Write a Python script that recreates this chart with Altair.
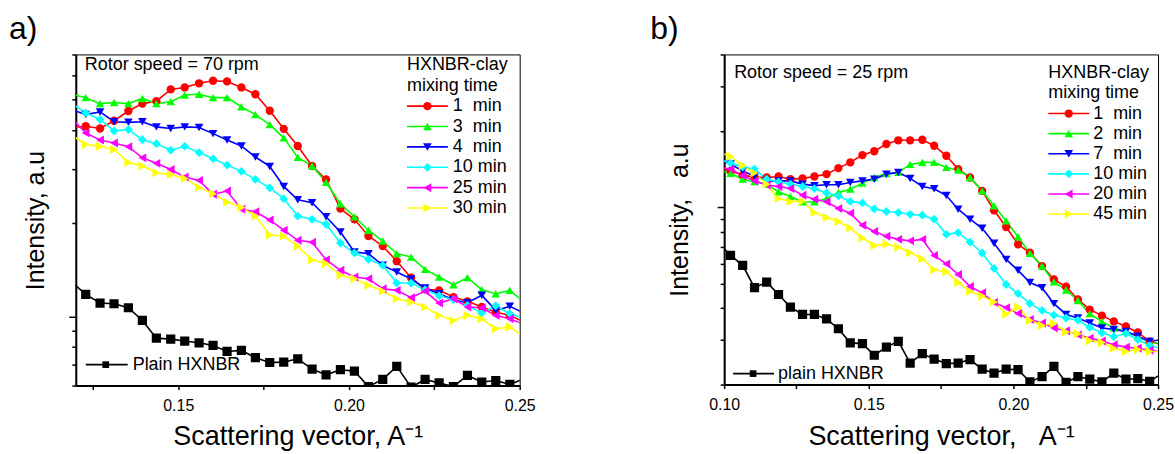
import altair as alt
import pandas as pd

# ---------------- data ----------------
X_A = [0.1188, 0.1229, 0.1271, 0.1312, 0.1354, 0.1395, 0.1436, 0.1478, 0.1519, 0.1561,
       0.1602, 0.1643, 0.1685, 0.1726, 0.1768, 0.1809, 0.1850, 0.1892, 0.1933, 0.1975,
       0.2016, 0.2057, 0.2099, 0.2140, 0.2182, 0.2223, 0.2264, 0.2306, 0.2347, 0.2389,
       0.2430, 0.2471, 0.2513]
X_B = [0.0981, 0.1022, 0.1064, 0.1105, 0.1147, 0.1188, 0.1229, 0.1271, 0.1312, 0.1354,
       0.1395, 0.1436, 0.1478, 0.1519, 0.1561, 0.1602, 0.1643, 0.1685, 0.1726, 0.1768,
       0.1809, 0.1850, 0.1892, 0.1933, 0.1975, 0.2016, 0.2057, 0.2099, 0.2140, 0.2182,
       0.2223, 0.2264, 0.2306, 0.2347, 0.2389, 0.2430, 0.2471, 0.2513]

LABELS_A = ["1\u00a0\u00a0min", "3\u00a0\u00a0min", "4\u00a0\u00a0min", "10 min", "25 min", "30 min"]
PLAIN_A = "Plain HXNBR"
LABELS_B = ["1\u00a0\u00a0min", "2\u00a0\u00a0min", "7\u00a0\u00a0min", "10 min", "20 min", "45 min"]
PLAIN_B = "plain HXNBR"

RED_A = [4.07, 4.11, 4.04, 4.28, 4.60, 4.86, 4.95, 5.40, 5.48, 5.65, 5.76, 5.73, 5.48, 5.21, 4.61, 4.03,
         3.55, 3.06, 2.77, 2.23, 2.06, 1.82, 1.69, 1.51, 1.336, 1.225, 1.216, 1.157, 1.121, 1.075, 1.035, 1.01, 0.961]
GREEN_A = [5.21, 5.08, 4.86, 4.90, 4.86, 5.05, 4.86, 4.93, 5.18, 5.21, 5.08, 5.08, 4.75, 4.48, 4.16, 3.77,
           3.26, 3.06, 2.71, 2.31, 2.10, 1.90, 1.754, 1.597, 1.557, 1.421, 1.343, 1.268, 1.336, 1.222, 1.186, 1.216, 1.115]
BLUE_A = [4.65, 4.48, 4.57, 4.25, 4.23, 4.25, 4.09, 4.04, 4.09, 4.07, 3.89, 3.71, 3.55, 3.27, 3.05, 2.63,
          2.38, 2.33, 2.10, 1.876, 1.617, 1.597, 1.464, 1.393, 1.323, 1.237, 1.186, 1.135, 1.110, 1.172, 1.048, 1.080, 1.028]
CYAN_A = [4.86, 4.54, 4.32, 3.97, 4.01, 3.72, 3.61, 3.44, 3.54, 3.38, 3.23, 3.08, 2.94, 2.77, 2.60, 2.40,
          2.11, 2.06, 1.986, 1.728, 1.605, 1.531, 1.464, 1.284, 1.284, 1.222, 1.169, 1.135, 1.088, 1.028, 1.085, 1.023, 0.988]
MAGENTA_A = [4.35, 3.91, 3.71, 3.63, 3.53, 3.25, 3.12, 2.98, 2.82, 2.75, 2.48, 2.54, 2.22, 2.18, 2.05, 1.90,
             1.763, 1.737, 1.527, 1.411, 1.343, 1.326, 1.231, 1.216, 1.152, 1.210, 1.107, 1.143, 1.075, 1.069, 1.01, 0.985, 0.945]
YELLOW_A = [3.85, 3.59, 3.54, 3.46, 3.14, 3.06, 2.91, 2.87, 2.79, 2.61, 2.49, 2.34, 2.25, 2.11, 1.834, 1.82,
            1.686, 1.527, 1.483, 1.36, 1.326, 1.262, 1.210, 1.143, 1.115, 1.075, 1.01, 0.973, 1.01, 0.985, 0.915, 0.926, 0.864]
BLACK_A = [1.294, 1.180, 1.107, 1.101, 1.069, 0.973, 0.853, 0.847, 0.835, 0.824, 0.808, 0.773, 0.779, 0.738, 0.712, 0.714,
           0.732, 0.678, 0.650, 0.675, 0.668, 0.596, 0.628, 0.692, 0.593, 0.628, 0.612, 0.596, 0.647, 0.616, 0.623, 0.605, 0.631]

RED_B = [1.439, 1.388, 1.338, 1.314, 1.310, 1.322, 1.290, 1.299, 1.322, 1.350, 1.426, 1.502, 1.605, 1.661, 1.774, 1.835,
         1.835, 1.845, 1.747, 1.595, 1.413, 1.310, 1.160, 0.973, 0.836, 0.714, 0.662, 0.586, 0.519, 0.486, 0.433, 0.395,
         0.374, 0.355, 0.339, 0.321, 0.296, 0.287]
GREEN_B = [1.40, 1.36, 1.290, 1.261, 1.233, 1.149, 1.102, 1.049, 1.049, 1.082, 1.143, 1.178, 1.244, 1.310, 1.356, 1.371,
           1.475, 1.502, 1.502, 1.435, 1.400, 1.310, 1.160, 1.012, 0.883, 0.765, 0.658, 0.586, 0.508, 0.472, 0.429, 0.381,
           0.354, 0.334, 0.324, 0.309, 0.295, 0.290]
BLUE_B = [1.548, 1.479, 1.388, 1.326, 1.270, 1.270, 1.270, 1.233, 1.216, 1.227, 1.227, 1.252, 1.270, 1.290, 1.350, 1.371,
          1.299, 1.207, 1.183, 1.112, 0.982, 0.897, 0.826, 0.721, 0.623, 0.564, 0.505, 0.482, 0.417, 0.378, 0.366, 0.350,
          0.334, 0.330, 0.324, 0.310, 0.296, 0.301]
CYAN_B = [1.548, 1.492, 1.439, 1.413, 1.290, 1.259, 1.233, 1.207, 1.183, 1.139, 1.108, 1.054, 1.040, 0.985, 0.962, 0.953,
          0.938, 0.930, 0.897, 0.782, 0.794, 0.729, 0.660, 0.574, 0.496, 0.457, 0.417, 0.392, 0.376, 0.366, 0.359, 0.336,
          0.320, 0.309, 0.318, 0.301, 0.285, 0.277]
MAGENTA_B = [1.439, 1.413, 1.330, 1.270, 1.222, 1.207, 1.186, 1.115, 1.075, 1.051, 0.988, 0.947, 0.849, 0.802, 0.768, 0.747,
             0.737, 0.747, 0.646, 0.598, 0.543, 0.487, 0.460, 0.421, 0.402, 0.381, 0.361, 0.350, 0.334, 0.326, 0.314, 0.305,
             0.297, 0.287, 0.281, 0.278, 0.273, 0.270]
YELLOW_B = [1.650, 1.586, 1.456, 1.363, 1.233, 1.082, 1.054, 1.056, 0.953, 0.911, 0.879, 0.828, 0.756, 0.706, 0.717, 0.695,
            0.662, 0.627, 0.567, 0.557, 0.505, 0.466, 0.447, 0.423, 0.379, 0.404, 0.358, 0.342, 0.348, 0.322, 0.317, 0.298,
            0.293, 0.278, 0.270, 0.275, 0.270, 0.270]
BLACK_B = [0.721, 0.646, 0.590, 0.482, 0.507, 0.453, 0.404, 0.378, 0.378, 0.363, 0.332, 0.292, 0.290, 0.261, 0.281, 0.296,
           0.243, 0.265, 0.252, 0.242, 0.243, 0.251, 0.230, 0.222, 0.230, 0.229, 0.205, 0.215, 0.236, 0.204, 0.215, 0.210,
           0.205, 0.222, 0.210, 0.211, 0.206, 0.221]

X_TICKS_A = [0.125, 0.15, 0.175, 0.2, 0.225, 0.25]
X_TICKS_B = [0.1, 0.125, 0.15, 0.175, 0.2, 0.225, 0.25]
Y_TICKS_A = [0.6, 0.7, 0.8, 0.9, 1, 2, 3, 4, 5, 6, 7]
Y_TICKS_B = [0.2, 0.3, 0.4, 0.5, 0.6, 0.7, 0.8, 0.9, 1, 2, 3, 4]

COLORS = ["#FF0000", "#00FF00", "#0000FF", "#00FFFF", "#FF00FF", "#FFFF00", "#000000"]
SHAPES = ["circle", "triangle-up", "triangle-down", "diamond", "triangle-left", "triangle-right", "square"]
SIZES = [70, 85, 85, 75, 85, 85, 45]

FONT = "Liberation Sans"
TXT = 18


def panel(xs, series, labels, plain, xdom, ydom, xticks, yticks, w, h,
          ytitle, xtitle, ytpad, xtpad, tag, tag_x, tag_y, rotor, rotor_xy,
          leg_x, leg_range, plain_xy):
    names = labels + [plain]
    rows = []
    for name, ys in zip(names, series):
        for x, v in zip(xs, ys):
            rows.append({"x": x, "I": v, "s": name})
    df = pd.DataFrame(rows)

    color = alt.Color("s:N", scale=alt.Scale(domain=names, range=COLORS), legend=None)
    shape = alt.Shape("s:N", scale=alt.Scale(domain=names, range=SHAPES), legend=None)
    size = alt.Size("s:N", scale=alt.Scale(domain=names, range=SIZES), legend=None)

    X = alt.X("x:Q", scale=alt.Scale(domain=xdom, nice=False, zero=False),
              axis=alt.Axis(values=xticks,
                            labelExpr="round(datum.value*1000) % 50 == 0 ? format(datum.value, '.2f') : ''",
                            tickSize=4, tickWidth=1.5, domainWidth=2, domainColor="black",
                            tickColor="black", labelFontSize=16, labelPadding=8, labelFlush=False,
                            labelOverlap=False, grid=False, title=xtitle, titleFontSize=27,
                            titleFontWeight="normal", titlePadding=xtpad))
    Y = alt.Y("I:Q", scale=alt.Scale(type="log", domain=ydom, nice=False),
              axis=alt.Axis(values=yticks, labels=False,
                            tickSize={"condition": {"test": "datum.value == 1", "value": 7}, "value": 4},
                            tickWidth=1.5, domainWidth=2, domainColor="black", tickColor="black",
                            grid=False, title=ytitle, titleFontSize=25, titleFontWeight="normal",
                            titlePadding=ytpad))

    lines = alt.Chart(df).mark_line(clip=True, strokeWidth=1.6).encode(
        x=X, y=Y, color=color, order=alt.Order("x:Q"))
    points = alt.Chart(df).mark_point(filled=True, opacity=1, clip=True).encode(
        x=X, y=Y, color=color, shape=shape, size=size
    ).transform_filter(alt.FieldRangePredicate(field="x", range=xdom))
    data_layer = alt.layer(lines, points)

    # legend for the clay series (rows on a point scale)
    leg_rows = ["t1", "t2"] + labels
    LY = alt.Y("s:N", scale=alt.Scale(type="point", domain=leg_rows, range=leg_range, padding=0), axis=None)
    leg_df = pd.DataFrame({"s": labels, "label": labels})
    ttl_df = pd.DataFrame({"s": ["t1", "t2"], "label": ["HXNBR-clay", "mixing time"]})
    lx0, lx1, lxm, ltx = leg_x
    leg_rule = alt.Chart(leg_df).mark_rule(strokeWidth=1.6).encode(
        x=alt.value(lx0), x2=alt.value(lx1), y=LY, color=color)
    leg_pt = alt.Chart(leg_df).mark_point(filled=True, opacity=1).encode(
        x=alt.value(lxm), y=LY, color=color, shape=shape, size=size)
    leg_txt = alt.Chart(leg_df).mark_text(align="left", baseline="middle", fontSize=TXT).encode(
        x=alt.value(ltx), y=LY, text="label:N")
    leg_ttl = alt.Chart(ttl_df).mark_text(align="left", baseline="middle", fontSize=TXT).encode(
        x=alt.value(lx0), y=LY, text="label:N")
    legend_layer = alt.layer(leg_rule, leg_pt, leg_txt, leg_ttl)

    # plain legend entry
    px0, px1, pxm, ptx, py = plain_xy
    pdf = pd.DataFrame({"label": [plain]})
    p_rule = alt.Chart(pdf).mark_rule(strokeWidth=1.6, color="black").encode(
        x=alt.value(px0), x2=alt.value(px1), y=alt.value(py))
    p_pt = alt.Chart(pdf).mark_point(filled=True, opacity=1, shape="square", size=45, color="black").encode(
        x=alt.value(pxm), y=alt.value(py))
    p_txt = alt.Chart(pdf).mark_text(align="left", baseline="middle", fontSize=TXT).encode(
        x=alt.value(ptx), y=alt.value(py), text="label:N")

    rotor_txt = alt.Chart(pd.DataFrame({"t": [rotor]})).mark_text(
        align="left", baseline="middle", fontSize=TXT).encode(
        x=alt.value(rotor_xy[0]), y=alt.value(rotor_xy[1]), text="t:N")
    tag_txt = alt.Chart(pd.DataFrame({"t": [tag]})).mark_text(
        align="left", baseline="alphabetic", fontSize=32).encode(
        x=alt.value(tag_x), y=alt.value(tag_y), text="t:N")

    return alt.layer(data_layer, legend_layer, p_rule, p_pt, p_txt, rotor_txt, tag_txt).resolve_scale(
        y="independent").properties(width=w, height=h)


panel_a = panel(X_A, [RED_A, GREEN_A, BLUE_A, CYAN_A, MAGENTA_A, YELLOW_A, BLACK_A],
                LABELS_A, PLAIN_A, [0.12, 0.25], [0.6, 7], X_TICKS_A, Y_TICKS_A, 445, 332,
                "Intensity, a.u", "Scattering vector, A\u207b\u00b9", 20, 10, "a)", -67, -15,
                "Rotor speed = 70 rpm", (9, 11), (332, 373, 352.5, 378), [11, 154],
                (10, 52, 30, 57, 311))
panel_b = panel(X_B, [RED_B, GREEN_B, BLUE_B, CYAN_B, MAGENTA_B, YELLOW_B, BLACK_B],
                LABELS_B, PLAIN_B, [0.10, 0.25], [0.2, 4], X_TICKS_B, Y_TICKS_B, 435, 331,
                "Intensity,\u00a0\u00a0\u00a0a.u", "Scattering vector,\u00a0\u00a0\u00a0A\u207b\u00b9", 24, 11,
                "b)", -74, -15, "Rotor speed = 25 rpm", (10, 19), (325, 366, 345.5, 370), [19, 160],
                (9, 50, 29, 54, 320))

chart = alt.hconcat(panel_a, panel_b, spacing=113).resolve_scale(
    x="independent", y="independent", color="independent", shape="independent", size="independent"
).properties(
    padding={"left": 8, "top": 12, "right": 0, "bottom": 0}
).configure(font=FONT).configure_view(stroke="black", strokeWidth=1).configure_axis(
    labelColor="black", titleColor="black", labelFont=FONT, titleFont=FONT)

chart.save("out.html", embed_options={"renderer": "svg", "actions": False})
